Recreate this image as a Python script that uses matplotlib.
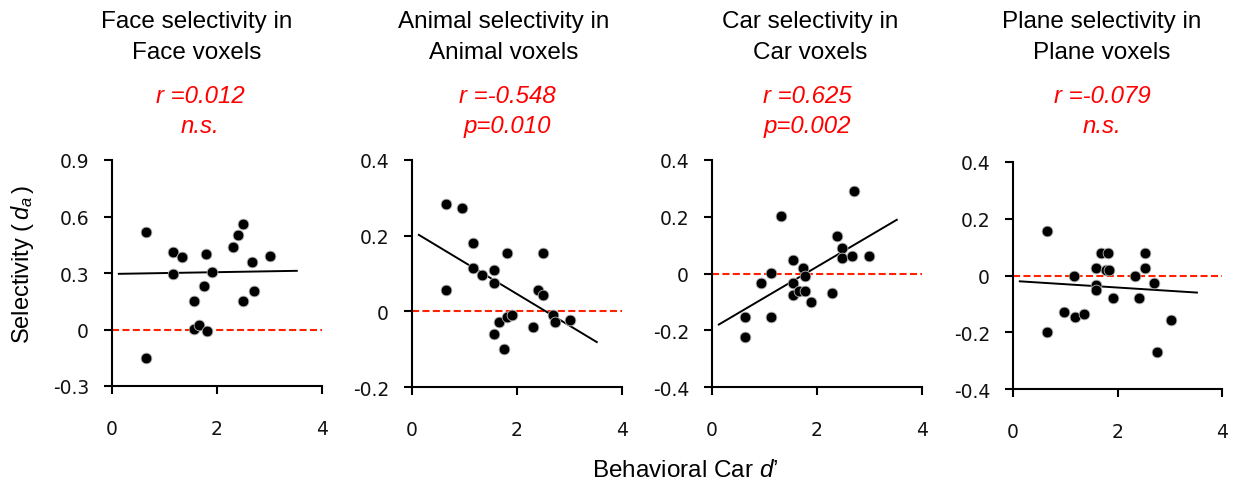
import matplotlib
matplotlib.use('Agg')
import matplotlib.pyplot as plt
import numpy as np

plt.rcParams['mathtext.fontset'] = 'custom'
plt.rcParams['mathtext.rm'] = 'Liberation Sans'
plt.rcParams['mathtext.it'] = 'Liberation Sans:italic'

# ---------------- data ----------------
titles_line1 = ['Face selectivity in', 'Animal selectivity in', 'Car selectivity in', 'Plane selectivity in']
titles_line2 = ['Face voxels', 'Animal voxels', 'Car voxels', 'Plane voxels']
r_texts = ['r =0.012', 'r =-0.548', 'r =0.625', 'r =-0.079']
p_texts = ['n.s.', 'p=0.010', 'p=0.002', 'n.s.']

face_x = [0.65, 1.16, 1.34, 1.79, 1.16, 1.90, 1.75, 1.57, 1.57, 1.66, 1.80, 2.30, 2.40, 2.50, 2.67, 3.00, 2.71, 2.49, 0.65]
face_y = [0.52, 0.413, 0.387, 0.40, 0.295, 0.307, 0.231, 0.151, 0.002, 0.023, -0.007, 0.44, 0.504, 0.56, 0.36, 0.389, 0.204, 0.151, -0.151]

animal_x = [0.65, 0.96, 1.16, 1.16, 1.34, 1.57, 1.57, 1.81, 0.65, 2.50, 2.40, 2.50, 1.66, 1.81, 1.90, 1.57, 1.76, 2.31, 2.68, 2.72, 3.01]
animal_y = [0.285, 0.272, 0.18, 0.115, 0.095, 0.110, 0.076, 0.154, 0.056, 0.154, 0.057, 0.043, -0.028, -0.015, -0.010, -0.061, -0.10, -0.042, -0.010, -0.029, -0.022]

car_x = [0.62, 0.62, 0.94, 1.13, 1.13, 1.31, 1.55, 1.55, 1.55, 1.65, 1.73, 1.78, 1.78, 1.88, 2.29, 2.38, 2.48, 2.48, 2.67, 2.99, 2.71]
car_y = [-0.154, -0.224, -0.033, 0.001, -0.154, 0.202, 0.047, -0.033, -0.076, -0.06, 0.021, -0.008, -0.06, -0.102, -0.068, 0.132, 0.089, 0.054, 0.063, 0.063, 0.29]

plane_x = [0.66, 0.66, 1.17, 0.98, 1.18, 1.36, 1.59, 1.59, 1.59, 1.68, 1.82, 1.78, 1.83, 1.91, 2.33, 2.42, 2.52, 2.52, 2.70, 3.03, 2.75]
plane_y = [0.156, -0.198, 0.0, -0.13, -0.146, -0.137, 0.026, -0.033, -0.052, 0.078, 0.078, 0.019, 0.019, -0.078, 0.0, -0.078, 0.078, 0.026, -0.026, -0.156, -0.268]

# regression lines (slope, intercept)
fit_slopes = [0.0047, -0.0836, 0.1089, -0.0117]
fit_intercepts = [0.295, 0.213, -0.194, -0.019]
fit_x_range = [0.13, 3.52]

x_ticks = [0, 2, 4]
y_ticks = [[-0.3, 0, 0.3, 0.6, 0.9], [-0.2, 0, 0.2, 0.4], [-0.4, -0.2, 0, 0.2, 0.4], [-0.4, -0.2, 0, 0.2, 0.4]]
y_ticklabels = [['-0.3', '0', '0.3', '0.6', '0.9'], ['-0.2', '0', '0.2', '0.4'],
                ['-0.4', '-0.2', '0', '0.2', '0.4'], ['-0.4', '-0.2', '0', '0.2', '0.4']]

xs = [face_x, animal_x, car_x, plane_x]
ys = [face_y, animal_y, car_y, plane_y]

# ---------------- layout ----------------
W, H = 1233, 485
fig = plt.figure(figsize=(W / 100, H / 100), dpi=100)

panel_px = [(112, 322, 161, 387), (412, 622, 161, 388), (712, 922, 161, 388), (1013, 1222, 163, 390)]
title_cx = [197, 504, 810, 1102]
red_cx = [200, 507, 807, 1102]

title_font = dict(family='Liberation Sans', size=17.5)
red_font = dict(family='Liberation Sans', size=17.3, style='italic', color='#FF0000')

for i in range(4):
    l, r, t, b = panel_px[i]
    ax = fig.add_axes([l / W, 1 - b / H, (r - l) / W, (b - t) / H])
    ax.axhline(0, color='#FF2200', lw=1.5, ls=(0, (3.4, 1.6)), zorder=1)
    fx = np.array(fit_x_range)
    ax.plot(fx, fit_slopes[i] * fx + fit_intercepts[i], color='black', lw=1.4, zorder=2)
    ax.scatter(xs[i], ys[i], s=60, color='black', edgecolors='#b8b8b8', linewidths=0.6, zorder=3)
    ax.set_xlim(0, 4)
    ax.set_ylim(y_ticks[i][0], y_ticks[i][-1])
    ax.set_xticks(x_ticks)
    ax.set_xticklabels([str(v) for v in x_ticks])
    ax.set_yticks(y_ticks[i])
    ax.set_yticklabels(y_ticklabels[i])
    for s in ['top', 'right']:
        ax.spines[s].set_visible(False)
    for s in ['left', 'bottom']:
        ax.spines[s].set_linewidth(1.5)
    ax.tick_params(axis='both', direction='out', length=6, width=1.5, labelsize=13.5)
    ax.tick_params(axis='y', pad=10.5)
    ax.tick_params(axis='x', pad=18)
    for lab in ax.get_xticklabels() + ax.get_yticklabels():
        lab.set_fontfamily('DejaVu Sans')
        lab.set_color('#111111')
    ax.set_facecolor('none')

    fig.text(title_cx[i] / W, 1 - 28 / H, titles_line1[i], ha='center', va='baseline', **title_font)
    fig.text(title_cx[i] / W, 1 - 59 / H, titles_line2[i], ha='center', va='baseline', **title_font)
    fig.text(red_cx[i] / W, 1 - 103 / H, r_texts[i], ha='center', va='baseline', **red_font)
    fig.text(red_cx[i] / W, 1 - 133 / H, p_texts[i], ha='center', va='baseline', **red_font)

fig.text(23 / W, 1 - 265 / H, r'Selectivity ($\,d_a\,$)', rotation=90, ha='center', va='center',
         family='Liberation Sans', size=17)
fig.text(685 / W, 1 - 477 / H, r'Behavioral Car $d$’', ha='center', va='baseline',
         family='Liberation Sans', size=17.5)

fig.savefig('out.png', dpi=100)
